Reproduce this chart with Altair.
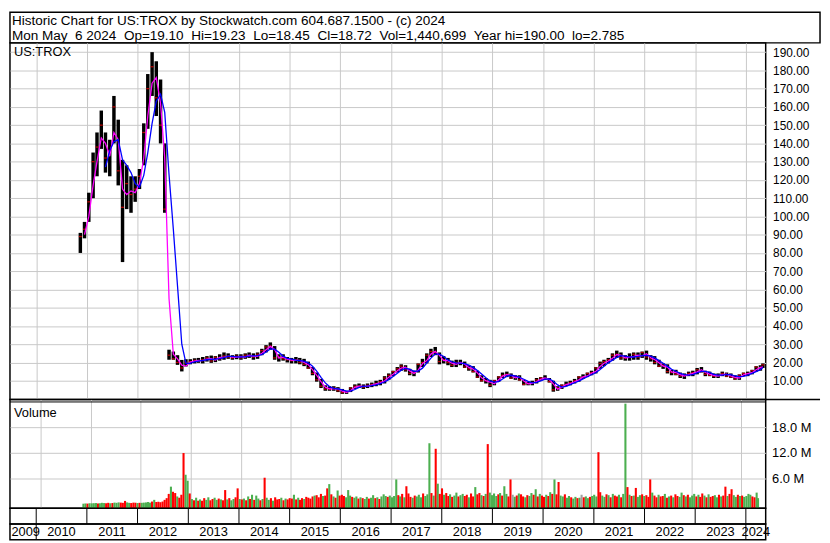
import altair as alt
import pandas as pd

FONT = "Liberation Sans"
GRID = "#c8c8c8"
RED = "#ff0000"
GREEN = "#4caf50"
GRAY = "#a0a0a0"
MAGENTA = "#ff00ff"
BLUE = "#0000ff"

TITLE_LINE = "Historic Chart for US:TROX by Stockwatch.com 604.687.1500 - (c) 2024"
QUOTE_LINE = "Mon May  6 2024  Op=19.10  Hi=19.23  Lo=18.45  Cl=18.72  Vol=1,440,699  Year hi=190.00  lo=2.785"
SYMBOL = "US:TROX"
VOLUME_TITLE = "Volume"

# ---- monthly price bars, Nov 2010 .. May 2024 ----
high = [
    91, 97,
    113, 135, 146, 158, 146, 142, 166, 153, 131, 128, 122, 122,
    126, 151, 178, 190, 185, 175, 140, 27, 26, 24, 21.4, 21.8,
    21.8, 22.3, 22.5, 23.0, 23.5, 23.8, 23.5, 24.5, 25.5, 25.0, 24.0, 24.5,
    24.5, 25.0, 25.5, 25.0, 25.5, 27.5, 29.5, 31.0, 29.0, 24.5, 24.5, 23.0,
    22.5, 23.0, 22.5, 22.0, 20.5, 17.5, 14.5, 11.0, 7.5, 7.0, 7.0, 6.5,
    5.5, 4.5, 6.5, 8.0, 8.5, 8.0, 8.5, 9.0, 10.0, 10.5, 12.5, 14.0,
    15.5, 17.5, 19.0, 18.5, 16.5, 15.5, 19.5, 22.0, 25.0, 27.5, 28.5, 25.5,
    23.5, 22.5, 21.0, 21.5, 21.5, 20.5, 18.5, 18.0, 15.5, 13.0, 11.5, 10.5,
    10.5, 12.5, 14.5, 15.0, 14.0, 13.0, 13.0, 10.5, 9.5, 10.0, 11.5, 12.0,
    13.0, 11.5, 10.0, 7.0, 8.0, 9.5, 10.0, 11.0, 12.5, 13.5, 14.5, 15.5,
    17.5, 20.5, 21.5, 22.5, 25.0, 26.5, 25.5, 24.0, 25.0, 25.5, 25.5, 26.0,
    26.5, 24.0, 23.5, 21.5, 19.5, 19.0, 16.0, 16.0, 14.5, 14.0, 15.0, 15.5,
    17.0, 17.5, 15.5, 15.0, 14.0, 14.0, 15.0, 14.5, 14.0, 13.0, 13.5, 14.5,
    15.0, 16.0, 18.0, 18.5, 19.5,
]
low = [
    80, 88,
    97, 110, 122, 137, 124, 122, 140, 117, 75, 104, 102, 108,
    115, 128, 148, 166, 155, 140, 102, 21.5, 21.5, 18.7, 15.1, 17.8,
    19.0, 19.5, 19.8, 19.5, 20.5, 19.8, 20.2, 21.0, 21.5, 22.0, 21.5, 21.8,
    21.5, 22.0, 22.5, 21.5, 22.0, 24.0, 25.5, 27.0, 21.5, 20.5, 21.0, 20.0,
    19.5, 19.5, 19.0, 18.0, 16.5, 13.0, 9.5, 6.0, 4.5, 4.5, 4.5, 3.8,
    2.8, 2.8, 3.8, 5.5, 6.0, 5.5, 6.0, 6.5, 7.0, 7.5, 8.5, 10.5,
    12.5, 14.5, 15.5, 15.0, 13.0, 12.5, 14.5, 17.5, 19.5, 23.0, 24.0, 19.0,
    19.5, 18.5, 17.5, 17.5, 18.5, 17.0, 15.5, 14.5, 11.5, 9.5, 8.5, 6.5,
    7.5, 9.5, 11.5, 12.0, 11.0, 10.5, 10.0, 7.5, 7.5, 7.5, 8.5, 10.0,
    10.5, 9.0, 4.0, 4.5, 5.5, 7.0, 7.5, 8.5, 9.5, 11.0, 12.0, 13.0,
    14.0, 16.5, 18.0, 19.5, 21.0, 22.5, 21.5, 21.0, 21.0, 21.5, 21.5, 22.5,
    21.5, 20.5, 19.0, 17.5, 16.5, 14.0, 13.0, 13.0, 11.5, 11.0, 12.5, 12.5,
    13.5, 14.5, 12.5, 12.5, 11.5, 11.5, 12.5, 12.0, 11.5, 10.5, 10.5, 12.5,
    12.5, 13.5, 15.0, 15.5, 17.0,
]
close = [
    89, 93,
    108, 130, 138, 150, 132, 136, 160, 125, 105, 118, 112, 115,
    122, 146, 170, 182, 165, 150, 104, 24, 22, 20, 17, 20,
    20.5, 21.2, 20.8, 21.5, 22.5, 20.8, 22.8, 22.0, 23.5, 23.0, 22.5, 23.5,
    22.5, 24.0, 23.5, 23.0, 24.5, 26.5, 28.5, 29.0, 22.5, 23.0, 22.0, 21.5,
    21.0, 21.5, 20.0, 19.0, 17.0, 14.0, 10.5, 7.0, 5.5, 5.5, 6.0, 4.5,
    3.5, 4.0, 6.0, 7.0, 7.0, 6.5, 7.5, 8.0, 8.5, 9.5, 11.5, 13.0,
    15.0, 16.5, 18.0, 16.0, 14.0, 14.5, 19.0, 20.0, 24.0, 26.0, 25.5, 20.5,
    21.5, 20.0, 18.5, 20.0, 19.5, 17.5, 16.5, 15.0, 12.0, 10.0, 10.0, 7.5,
    10.0, 12.0, 13.0, 13.5, 11.5, 12.5, 10.5, 8.0, 8.5, 9.0, 10.5, 11.5,
    11.0, 9.5, 5.0, 6.0, 7.5, 8.0, 9.0, 10.0, 12.0, 12.0, 14.0, 14.5,
    17.0, 19.5, 20.5, 21.5, 24.0, 24.5, 22.5, 22.5, 23.0, 24.5, 23.0, 25.5,
    23.0, 22.0, 20.0, 18.0, 18.5, 15.0, 14.5, 13.5, 12.5, 13.0, 14.0, 14.5,
    16.0, 15.0, 13.5, 13.0, 12.5, 13.0, 14.0, 12.5, 12.0, 11.0, 13.0, 14.0,
    14.0, 15.5, 17.5, 17.0, 18.72,
]
ma_short = [
    None, 90,
    100, 117, 130, 143, 140, 133, 146, 142, 115, 112, 114, 113,
    118, 132, 155, 173, 176, 162, 132, 55, 24.5, 22, 18.5, 18,
    20.2, 20.7, 21.2, 21.0, 21.8, 22.1, 21.3, 22.8, 22.8, 23.5, 22.9, 22.8,
    23.3, 23.0, 24.0, 23.4, 23.4, 25.1, 27.0, 28.8, 27.1, 22.5, 22.9, 21.8,
    21.3, 21.1, 21.1, 20.0, 18.8, 16.1, 13.0, 9.5, 6.5, 5.6, 5.6, 5.6,
    4.3, 3.6, 4.6, 6.4, 7.1, 6.9, 6.9, 7.6, 8.3, 8.8, 10.0, 11.9,
    13.5, 15.5, 16.9, 17.4, 15.4, 14.0, 15.8, 19.4, 21.1, 24.6, 26.1, 23.9,
    21.0, 21.0, 19.6, 19.0, 20.0, 19.1, 17.3, 16.4, 14.3, 11.6, 10.0, 9.3,
    8.3, 10.5, 12.5, 13.3, 13.0, 11.6, 12.0, 9.8, 8.3, 8.6, 9.5, 10.8,
    11.6, 10.6, 8.3, 5.4, 6.4, 7.9, 8.4, 9.4, 10.5, 12.1, 12.6, 14.1,
    15.1, 17.8, 19.6, 20.8, 22.3, 24.3, 24.0, 22.5, 22.8, 23.3, 24.0, 23.6,
    24.8, 22.6, 21.6, 19.8, 18.0, 17.5, 14.8, 14.5, 13.3, 12.5, 13.4, 14.0,
    14.9, 16.0, 14.5, 13.6, 12.9, 12.6, 13.4, 13.6, 12.6, 11.9, 11.5, 13.3,
    13.9, 14.4, 16.0, 17.3, 17.6,
]
ma_long = [
    None, None,
    None, None, None, None, 127, 136, 141, 142, 131, 128, 124, 118,
    116, 122.5, 135, 151, 163, 167, 157, 123, 93, 62, 30, 19.5,
    19.5, 20.4, 20.8, 21.1, 21.5, 21.7, 21.9, 22.1, 22.7, 23.3, 23.3, 23.1,
    23.0, 23.2, 23.5, 23.6, 23.7, 24.3, 25.7, 27.4, 27.3, 25.6, 23.5, 22.3,
    21.8, 21.3, 21.0, 20.7, 19.8, 17.9, 15.3, 11.9, 8.8, 6.8, 5.8, 5.6,
    5.0, 4.3, 4.3, 5.2, 6.4, 6.9, 7.1, 7.3, 7.8, 8.4, 9.3, 10.6,
    12.3, 14.1, 15.8, 16.7, 16.3, 15.2, 15.3, 16.9, 19.7, 22.4, 24.6, 24.6,
    23.3, 21.4, 20.4, 19.8, 19.6, 19.4, 18.6, 17.3, 15.6, 13.7, 11.6, 9.9,
    9.2, 9.5, 11.0, 12.5, 13.0, 12.6, 11.9, 10.8, 9.7, 8.8, 9.1, 9.9,
    10.9, 11.0, 9.7, 7.7, 6.5, 6.9, 7.9, 8.9, 9.8, 11.0, 12.2, 13.3,
    14.4, 16.2, 18.0, 19.8, 21.3, 22.8, 23.7, 23.5, 23.0, 23.0, 23.3, 23.8,
    23.9, 23.5, 22.5, 21.0, 19.6, 18.0, 16.3, 15.2, 14.0, 13.3, 13.1, 13.4,
    14.3, 15.1, 15.1, 14.6, 13.5, 13.1, 13.1, 13.3, 13.3, 12.6, 12.2, 12.4,
    13.1, 14.0, 15.0, 16.1, 17.3,
]

# ---- half-monthly volume (millions of shares), Nov 2010 .. early May 2024 ----
volume = [
    0.1, 0.15, 0.12, 0.2,
    0.18, 0.22, 0.25, 0.15, 0.2, 0.3, 0.25, 0.2, 0.3, 0.2, 0.25, 0.35,
    0.3, 0.4, 0.35, 0.3, 0.75, 0.4, 0.3, 0.25, 0.35, 0.3, 0.25, 0.3,
    0.3, 0.35, 0.4, 0.5, 0.35, 0.6, 1.0, 0.5, 0.55, 0.45, 0.6, 1.0,
    1.4, 2.4, 4.1, 2.9, 2.6, 1.8, 1.5, 2.2, 12.0, 6.9, 5.5, 2.5,
    1.2, 0.9, 1.5, 0.8, 1.1, 0.8, 1.4, 1.0, 1.6, 0.9, 1.2, 1.5,
    1.0, 1.3, 1.1, 0.9, 3.3, 1.1, 1.4, 0.9, 1.2, 1.6, 3.7, 1.2,
    1.1, 1.3, 0.9, 1.8, 1.2, 2.2, 1.0, 2.0, 1.3, 0.9, 1.2, 6.2,
    1.5, 1.0, 1.4, 0.8, 1.6, 1.1, 1.2, 1.5, 0.9, 1.3, 1.1, 1.4,
    1.3, 2.2, 1.1, 1.5, 1.0, 1.4, 1.2, 1.7, 1.5, 1.3, 1.8, 2.0,
    2.1, 1.6, 2.4, 1.9, 2.0, 3.7, 4.7, 2.3, 1.8, 1.5, 3.2, 2.0,
    2.2, 1.9, 1.6, 3.3, 2.0, 1.7, 1.5, 1.8, 1.3, 1.6, 1.4, 1.2,
    1.7, 1.3, 1.5, 2.1, 1.4, 1.6, 1.2, 1.8, 2.3, 1.9, 1.7, 2.0,
    1.6, 1.9, 5.8, 2.1, 1.8, 2.4, 1.6, 4.2, 2.5, 1.7, 1.5, 2.0,
    1.8, 2.2, 1.6, 2.5, 1.9, 2.3, 14.3, 2.6, 2.0, 13.0, 4.8, 2.4,
    3.7, 2.2, 2.6, 1.9, 2.3, 1.7, 2.0, 2.7, 1.8, 2.1, 2.4, 1.9,
    2.2, 1.6, 2.5, 1.8, 4.0, 2.3, 2.6, 2.1, 1.9, 2.4, 14.1, 2.7,
    2.1, 2.5, 1.9, 2.3, 2.6, 2.0, 4.2, 2.4, 1.8, 5.8, 2.2, 1.7,
    2.0, 2.5, 2.3, 1.8, 1.6, 2.1, 1.9, 2.6, 2.2, 3.5, 1.8, 2.4,
    2.0, 1.7, 2.2, 1.9, 2.8, 2.4, 5.8, 2.3, 5.2, 2.0, 1.8, 2.3,
    1.5, 1.9, 1.6, 1.3, 1.7, 1.4, 1.5, 2.2, 1.6, 1.8, 1.4, 1.7,
    1.9, 2.2, 1.8, 12.2, 2.8, 2.0, 1.7, 2.3, 2.1, 1.6, 2.4, 2.0,
    1.8, 2.2, 1.6, 2.4, 23.6, 4.0, 2.2, 1.9, 2.0, 3.8, 1.7, 2.1,
    2.3, 1.9, 2.1, 1.7, 5.8, 2.7, 2.0, 1.6, 2.2, 1.8, 1.9, 2.4,
    1.5, 1.8, 2.0, 1.6, 2.3, 1.9, 1.7, 2.7, 2.1, 1.8, 2.2, 1.6,
    2.0, 2.4, 1.8, 2.2, 1.7, 2.5, 2.0, 1.6, 2.3, 1.7, 1.9, 2.1,
    1.6, 2.2, 1.8, 2.0, 4.1, 1.9, 2.4, 3.5, 2.1, 1.7, 2.2, 1.9,
    2.0, 1.7, 1.9, 2.4, 2.2, 1.8, 1.6, 2.7, 1.4,
]
# G = up day, R = down day, N = unchanged
vol_dir = "".join([
    "GGRG",
    "GGGRGGGRRGRGGGRRRGGRRRGR",
    "GGGGGRGRRRRRRRGRRGRRRGGR",
    "GRGRGRRGGRRGGRGRRGRGGRRG",
    "RGRGRGRGGRGRGGRGRRRGRGRR",
    "RGRGRRGRRRRGRRRGRRGRGRGR",
    "RRGGGRGGRGRGGRGGRGRGGGRG",
    "GGGRGRGRRRGRGGGRGGGRGRGR",
    "RGRRGRGGRGGRRGRRGRRGRGRG",
    "GGGRGRGGRRNGRGRRGRGGRGRG",
    "RRGRGRGRRGGRGGRGGRGNRGGR",
    "GGGRRGGRGRGRRGRGGRGRGRGG",
    "RGRRRGRRGRRGRGRGRRGGRGRG",
    "GGRGRRGRGRRGGRGRRGRRGGRG",
    "RGGGGRRGG",
])

price_ticks = list(range(10, 200, 10))
volume_ticks = [6, 12, 18]
years = list(range(2009, 2025))

# ---- tables ----
months = pd.date_range("2010-11-01", "2024-05-01", freq="MS")
price_dates = [m + pd.Timedelta(days=14) for m in months]
price_dates[-1] = pd.Timestamp("2024-05-03")
vol_dates = []
for m in months[:-1]:
    vol_dates.append(m + pd.Timedelta(days=7))
    vol_dates.append(m + pd.Timedelta(days=22))
vol_dates.append(pd.Timestamp("2024-05-03"))

for name, arr in [("high", high), ("low", low), ("close", close),
                  ("ma_short", ma_short), ("ma_long", ma_long)]:
    assert len(arr) == len(price_dates), (name, len(arr), len(price_dates))
assert len(volume) == len(vol_dates), (len(volume), len(vol_dates))
assert len(vol_dir) == len(vol_dates), (len(vol_dir), len(vol_dates))

price_df = pd.DataFrame({"date": price_dates, "high": high, "low": low,
                         "close": close, "ma_short": ma_short, "ma_long": ma_long})
vol_df = pd.DataFrame({"date": vol_dates, "vol": volume, "dir": list(vol_dir)})

X_START = pd.Timestamp("2009-06-26")
X_END = pd.Timestamp("2024-05-23")
X_DOMAIN = [alt.DateTime(year=2009, month=6, date=26), alt.DateTime(year=2024, month=5, date=23)]
YEAR_TICKS = [alt.DateTime(year=y, month=1, date=1) for y in years[1:]]

bound_df = pd.DataFrame({"start": [pd.Timestamp(f"{y}-01-01") for y in years[1:]]})
mids = []
for y in years:
    if y == years[0]:
        mids.append(X_START + (pd.Timestamp(f"{y + 1}-01-01") - X_START) * 0.6)
    elif y == years[-1]:
        mids.append(pd.Timestamp(f"{y}-01-01") + (X_END - pd.Timestamp(f"{y}-01-01")) / 2)
    else:
        mids.append(pd.Timestamp(f"{y}-07-02"))
label_df = pd.DataFrame({"label": [str(y) for y in years], "mid": mids})
one = pd.DataFrame({"k": [0]})

# ---- geometry ----
FULL_W = 820
PLOT_W = 765
HEAD_H = 31
PRICE_H = 361
VOL_H = 110
ROW_H = 16
VOL_MIN = -0.95
PRICE_TOP = (PRICE_H - 0.5) / 1.848  # keeps 10 units = 18.5 px

xs = alt.Scale(domain=X_DOMAIN)
x_grid = alt.Axis(values=YEAR_TICKS, grid=True, gridColor=GRID, gridWidth=1,
                  labels=False, ticks=False, domain=False, title=None)

# ---- header ----
htxt = dict(align="left", baseline="alphabetic", font=FONT, fontSize=13.7, color="black")
txt = dict(align="left", baseline="alphabetic", font=FONT, fontSize=13, color="black")
header = alt.layer(
    alt.Chart(one).mark_text(**htxt).encode(x=alt.value(2), y=alt.value(12.5),
                                            text=alt.value(TITLE_LINE)),
    alt.Chart(one).mark_text(**htxt).encode(x=alt.value(2), y=alt.value(28),
                                            text=alt.value(QUOTE_LINE.replace("  ", " \u00a0"))),
).properties(width=FULL_W, height=HEAD_H)

# ---- price panel ----
ys_p = alt.Scale(domain=[-0.27, PRICE_TOP], nice=False, zero=False)
yax_p = alt.Axis(orient="right", values=price_ticks, format=".2f", grid=True,
                 gridColor=GRID, gridWidth=1, ticks=False, domain=False,
                 labelPadding=7, labelFontSize=12, labelFont=FONT, labelColor="black",
                 labelAlign="left", labelBaseline="middle", labelOverlap=False, title=None)
X = alt.X("date:T", scale=xs, axis=x_grid)
pb = alt.Chart(price_df)
p_bars = pb.mark_rule(color="black", strokeWidth=3.5).encode(
    x=X, y=alt.Y("low:Q", scale=ys_p, axis=yax_p), y2="high:Q")
p_close = pb.mark_tick(color=RED, orient="horizontal", size=3, thickness=1.3).encode(
    x=X, y=alt.Y("close:Q", scale=ys_p, axis=yax_p))
p_ma1 = pb.mark_line(color=MAGENTA, strokeWidth=1.3).encode(
    x=X, y=alt.Y("ma_short:Q", scale=ys_p, axis=yax_p))
p_ma2 = pb.mark_line(color=BLUE, strokeWidth=1.3).encode(
    x=X, y=alt.Y("ma_long:Q", scale=ys_p, axis=yax_p))
p_sym = alt.Chart(one).mark_text(**txt).encode(x=alt.value(4), y=alt.value(13),
                                               text=alt.value(SYMBOL))
p_edge = alt.Chart(one).mark_rule(color="black", strokeWidth=1.5).encode(
    x=alt.value(PLOT_W), x2=alt.value(FULL_W), y=alt.value(PRICE_H))
price = alt.layer(p_bars, p_close, p_ma1, p_ma2, p_sym, p_edge).properties(
    width=PLOT_W, height=PRICE_H)

# ---- volume panel ----
ys_v = alt.Scale(domain=[VOL_MIN, 24.58], nice=False, zero=False)
yax_v = alt.Axis(orient="right", values=volume_ticks,
                 labelExpr="format(datum.value, '.1f') + ' M'", grid=True,
                 gridColor=GRID, gridWidth=1, ticks=False, domain=False,
                 labelPadding=6, labelFontSize=13, labelFont=FONT, labelColor="black",
                 labelAlign="left", labelBaseline="middle", title=None)
v_bars = alt.Chart(vol_df).mark_bar(size=2.1).encode(
    x=alt.X("date:T", scale=xs, axis=x_grid),
    y=alt.Y("vol:Q", scale=ys_v, axis=yax_v),
    y2=alt.datum(VOL_MIN),
    color=alt.Color("dir:N", scale=alt.Scale(domain=["R", "G", "N"], range=[RED, GREEN, GRAY]),
                    legend=None),
)
v_title = alt.Chart(one).mark_text(**txt).encode(x=alt.value(4), y=alt.value(18),
                                                 text=alt.value(VOLUME_TITLE))
v_line = alt.Chart(one).mark_rule(color="black", strokeWidth=1).encode(
    x=alt.value(0), x2=alt.value(PLOT_W), y=alt.value(2.5))
volume_panel = alt.layer(v_bars, v_title, v_line).properties(width=PLOT_W, height=VOL_H)

# ---- year rows ----
tickrow = alt.Chart(bound_df).mark_rule(color="black", strokeWidth=1).encode(
    x=alt.X("start:T", scale=xs, axis=None)).properties(width=PLOT_W, height=ROW_H)

lab_rules = alt.Chart(bound_df.iloc[[0, -1]]).mark_rule(color="black", strokeWidth=1).encode(
    x=alt.X("start:T", scale=xs, axis=None))
lab_text = alt.Chart(label_df).mark_text(font=FONT, fontSize=13, baseline="middle",
                                         align="center", color="black").encode(
    x=alt.X("mid:T", scale=xs, axis=None), y=alt.value(8.5), text="label:N")
labelrow = alt.layer(lab_rules, lab_text).properties(width=PLOT_W, height=ROW_H)

chart = alt.vconcat(header, price, volume_panel, tickrow, labelrow, spacing=0).properties(
    bounds="flush", padding=0, background="white"
).resolve_scale(x="independent", y="independent").configure_view(
    stroke="black", strokeWidth=1.5
)

chart.save("out.html", embed_options={"renderer": "svg", "actions": False})
